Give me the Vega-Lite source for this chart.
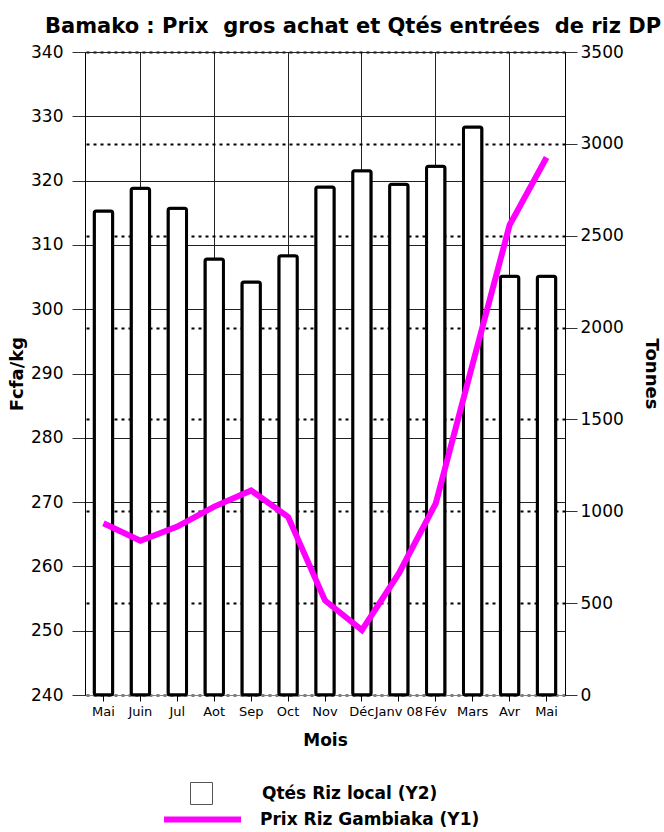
{
  "$schema": "https://vega.github.io/schema/vega-lite/v6.json",
  "width": 480,
  "height": 643,
  "autosize": {"type": "none"},
  "padding": {"left": 85, "top": 52, "right": 99, "bottom": 137},
  "background": "white",
  "config": {"view": {"stroke": null}, "font": "DejaVu Sans"},
  "title": {
    "text": "Bamako : Prix \u00a0gros achat et Qtés entrées \u00a0de riz DP",
    "anchor": "start",
    "frame": "group",
    "dx": -40,
    "fontSize": 21,
    "fontWeight": "bold",
    "font": "DejaVu Sans",
    "color": "black",
    "offset": 6
  },
  "data": {
    "values": [
      {"i": 1, "mois": "Mai", "qte": 2635, "prix": 266.7},
      {"i": 2, "mois": "Juin", "qte": 2758, "prix": 264.0},
      {"i": 3, "mois": "Jul", "qte": 2649, "prix": 266.2},
      {"i": 4, "mois": "Aot", "qte": 2373, "prix": 269.3},
      {"i": 5, "mois": "Sep", "qte": 2248, "prix": 271.8},
      {"i": 6, "mois": "Oct", "qte": 2391, "prix": 267.7},
      {"i": 7, "mois": "Nov", "qte": 2765, "prix": 254.7},
      {"i": 8, "mois": "Déc", "qte": 2854, "prix": 250.1},
      {"i": 9, "mois": "Janv 08", "qte": 2780, "prix": 258.9},
      {"i": 10, "mois": "Fév", "qte": 2878, "prix": 269.8},
      {"i": 11, "mois": "Mars", "qte": 3092, "prix": 291.5},
      {"i": 12, "mois": "Avr", "qte": 2279, "prix": 313.1},
      {"i": 13, "mois": "Mai", "qte": 2279, "prix": 323.6}
    ]
  },
  "layer": [
    {
      "mark": {"type": "bar", "stroke": "black", "strokeWidth": 3, "cornerRadius": 2},
      "encoding": {
        "x": {
          "field": "i",
          "type": "ordinal",
          "scale": {"paddingInner": 0.5, "paddingOuter": 0.25},
          "axis": {
            "title": "Mois",
            "titleFontSize": 17,
            "titleFontWeight": "bold",
            "titleColor": "black",
            "titlePadding": 14,
            "labelExpr": "['Mai','Juin','Jul','Aot','Sep','Oct','Nov','Déc','Janv 08','Fév','Mars','Avr','Mai'][datum.value-1]",
            "labelAngle": 0,
            "labelFontSize": 13,
            "labelColor": "black",
            "labelOverlap": false,
            "labelPadding": 4,
            "tickSize": 6,
            "tickColor": "black",
            "domainColor": "#808080",
            "grid": true,
            "gridColor": "#222222",
            "gridOpacity": {"condition": {"test": "datum.value % 2 == 0", "value": 1}, "value": 0},
            "bandPosition": 0.5
          }
        },
        "y": {
          "field": "qte",
          "type": "quantitative",
          "scale": {"domain": [0, 3500], "nice": false},
          "axis": {
            "orient": "right",
            "title": "Tonnes",
            "titleFontSize": 18,
            "titleFontWeight": "bold",
            "titleColor": "black",
            "titlePadding": 18,
            "values": [0, 500, 1000, 1500, 2000, 2500, 3000, 3500],
            "format": "d",
            "tickSize": 12,
            "tickColor": "#333333",
            "domainColor": "black",
            "labelFontSize": 17,
            "labelColor": "black",
            "labelPadding": 3,
            "grid": true,
            "gridColor": "black",
            "gridDash": [3, 4],
            "gridWidth": 2
          }
        },
        "fill": {
          "datum": "Qtés Riz local (Y2)",
          "type": "nominal",
          "scale": {"range": ["white"]},
          "legend": {
            "orient": "none",
            "legendX": 105,
            "legendY": 730,
            "title": null,
            "padding": 0,
            "symbolType": "square",
            "symbolSize": 484,
            "symbolFillColor": "white",
            "symbolStrokeColor": "#555555",
            "symbolStrokeWidth": 1,
            "labelFontSize": 17,
            "labelFontWeight": "bold",
            "labelColor": "black",
            "labelFont": "DejaVu Sans",
            "labelLimit": 400,
            "labelOffset": 49,
            "encode": {"symbols": {"update": {"stroke": {"value": "#555555"}, "strokeWidth": {"value": 1}, "fill": {"value": "white"}}}}
          }
        }
      }
    },
    {
      "mark": {"type": "line", "stroke": "#FF00FF", "strokeWidth": 6},
      "encoding": {
        "x": {"field": "i", "type": "ordinal"},
        "y": {
          "field": "prix",
          "type": "quantitative",
          "scale": {"domain": [240, 340], "nice": false},
          "axis": {
            "orient": "left",
            "title": "Fcfa/kg",
            "titleFontSize": 18,
            "titleFontWeight": "bold",
            "titleColor": "black",
            "titlePadding": 4,
            "values": [240, 250, 260, 270, 280, 290, 300, 310, 320, 330, 340],
            "tickSize": 13,
            "tickColor": "#333333",
            "domainColor": "black",
            "labelFontSize": 17,
            "labelColor": "black",
            "labelPadding": 9,
            "grid": true,
            "gridColor": "#222222",
            "gridWidth": 1
          }
        },
        "stroke": {
          "datum": "Prix Riz Gambiaka (Y1)",
          "type": "nominal",
          "scale": {"range": ["#FF00FF"]},
          "legend": {
            "orient": "none",
            "legendX": 76,
            "legendY": 726,
            "title": null,
            "padding": 0,
            "symbolType": "stroke",
            "symbolSize": 5929,
            "symbolStrokeWidth": 6,
            "symbolStrokeColor": "#FF00FF",
            "labelFontSize": 17,
            "labelFontWeight": "bold",
            "labelColor": "black",
            "labelFont": "DejaVu Sans",
            "labelLimit": 400,
            "labelOffset": 16
          }
        }
      }
    }
  ],
  "resolve": {"scale": {"y": "independent"}}
}
